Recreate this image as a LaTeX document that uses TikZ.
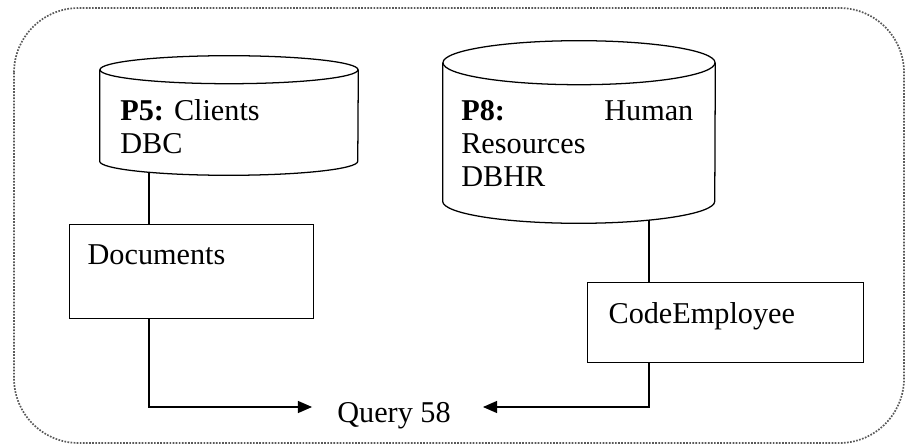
\documentclass[tikz,border=0pt]{standalone}
\usepackage{fontspec}
\setmainfont{Liberation Serif}
\usetikzlibrary{calc, arrows.meta, positioning}
% database drum: node name, x radius, y radius
\newcommand{\dbshape}[3]{%
    \draw[link] ([yshift=-#3]#1.north) ellipse [x radius=#2, y radius=#3];
    \draw[link] ([yshift=-#3]#1.north west) -- ([yshift=#3]#1.south west)
        arc[start angle=180, end angle=360, x radius=#2, y radius=#3] -- ([yshift=-#3]#1.north east);}

\begin{document}
\begin{tikzpicture}[x=0.025cm, y=-0.025cm,
        font=\fontsize{21.5}{23.5}\selectfont,
        db/.style={inner sep=0pt},
        tbl/.style={draw, line width=0.9pt, align=left, inner ysep=0pt, anchor=north west},
        link/.style={line width=0.9pt},
        flow/.style={-{Triangle[length=10pt, width=8.5pt]}, line width=0.9pt}]
        \useasboundingbox (0,0) rectangle (906,445);

        % Dotted frame
        \draw[densely dotted, gray!70!black, line width=1.2pt, rounded corners=46pt] (14,8) rectangle (904,443);

        % Databases
        \node[db, minimum width=6.45cm, minimum height=2.975cm] (db5) at (229,115.5) {};
        \node[db, minimum width=6.8cm, minimum height=4.55cm] (db8) at (579,132) {};
        \dbshape{db5}{3.225cm}{0.35cm}
        \dbshape{db8}{3.4cm}{0.55cm}
        \node[anchor=north west, inner sep=0pt, align=left] (t5) at (120,99) {\textbf{P5:} Clients\\DBC};
        \node[anchor=north west, inner sep=0pt, align=left, text width=5.8cm] (t8) at (461,100)
            {\textbf{P8:}\hspace{0pt plus 1fill}Human\\Resources\\DBHR};

        % Tables
        \node[tbl, inner xsep=12.8pt, text width=5.2cm, text height=28.5pt, text depth=38.4pt] (docs) at (69,224) {Documents};
        \node[tbl, inner xsep=14.9pt, text width=5.85cm, text height=29.2pt, text depth=27.7pt] (code) at (587,282) {CodeEmployee};

        % Query
        \node[inner sep=0pt] (q) at (394,416) {Query 58};

        % Links
        \coordinate (c5) at (149,0);
        \coordinate (c8) at (649,0);
        \draw[link] ($(c5 |- db5.south)+(0,-3)$) -- (c5 |- docs.north);
        \draw[flow] (c5 |- docs.south) |- ([shift={(-25,-9)}]q.west);
        \draw[link] ($(c8 |- db8.south)+(0,-3)$) -- (c8 |- code.north);
        \draw[flow] (c8 |- code.south) |- ([shift={(32,-9)}]q.east);
    \end{tikzpicture}
\end{document}
